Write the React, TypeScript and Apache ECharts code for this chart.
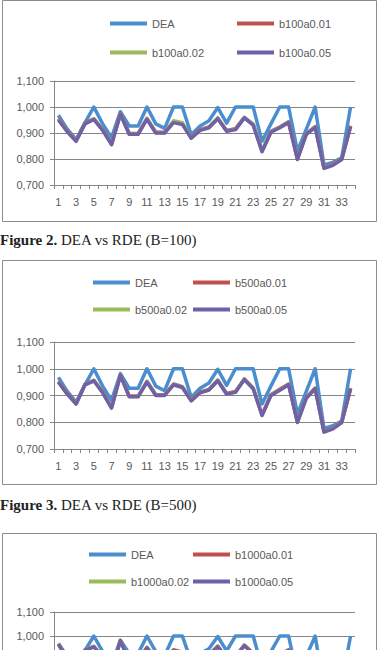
import React, { useEffect, useRef } from 'react';
import * as echarts from 'echarts';

const categories = ['1','2','3','4','5','6','7','8','9','10','11','12','13','14','15','16','17','18','19','20','21','22','23','24','25','26','27','28','29','30','31','32','33','34'];

const dea = [0.968,0.915,0.875,0.94,1.0,0.935,0.882,0.982,0.927,0.927,1.0,0.935,0.918,1.0,1.0,0.893,0.927,0.947,0.998,0.938,1.0,1.0,1.0,0.868,0.935,1.0,1.0,0.83,0.915,1.0,0.777,0.787,0.805,1.0];

const b100a001 = [0.955,0.908,0.872,0.938,0.955,0.913,0.858,0.975,0.898,0.898,0.956,0.903,0.903,0.943,0.936,0.883,0.913,0.923,0.958,0.910,0.916,0.960,0.933,0.832,0.906,0.923,0.943,0.802,0.898,0.925,0.768,0.780,0.801,0.928];
const b100a002 = [0.952,0.906,0.870,0.936,0.953,0.911,0.856,0.973,0.896,0.896,0.954,0.901,0.901,0.947,0.940,0.881,0.911,0.921,0.956,0.908,0.914,0.959,0.935,0.830,0.904,0.921,0.941,0.800,0.896,0.923,0.766,0.778,0.799,0.926];
const b100a005 = [0.950,0.905,0.868,0.935,0.952,0.910,0.855,0.972,0.895,0.895,0.953,0.900,0.900,0.940,0.933,0.880,0.910,0.920,0.955,0.907,0.913,0.958,0.930,0.828,0.903,0.920,0.940,0.798,0.895,0.922,0.764,0.776,0.798,0.925];

const b500a001 = [0.953,0.908,0.870,0.942,0.957,0.913,0.856,0.977,0.898,0.898,0.953,0.903,0.903,0.943,0.933,0.883,0.913,0.923,0.958,0.908,0.915,0.962,0.928,0.828,0.903,0.923,0.943,0.802,0.893,0.928,0.766,0.778,0.802,0.928];
const b500a002 = [0.951,0.906,0.869,0.941,0.956,0.911,0.854,0.976,0.896,0.896,0.951,0.901,0.901,0.941,0.931,0.881,0.911,0.921,0.956,0.906,0.913,0.961,0.926,0.826,0.901,0.921,0.941,0.800,0.891,0.926,0.764,0.776,0.800,0.926];
const b500a005 = [0.950,0.905,0.868,0.940,0.955,0.910,0.853,0.975,0.895,0.895,0.950,0.900,0.900,0.940,0.930,0.880,0.910,0.920,0.955,0.905,0.912,0.960,0.925,0.825,0.900,0.920,0.940,0.799,0.890,0.925,0.763,0.775,0.799,0.925];

const b1000a001 = [0.968,0.908,0.870,0.942,0.957,0.913,0.856,0.982,0.898,0.898,0.953,0.903,0.903,0.943,0.933,0.883,0.913,0.923,0.958,0.908,0.915,0.962,0.928,0.828,0.903,0.923,0.943,0.802,0.893,0.928,0.766,0.778,0.802,0.928];
const b1000a002 = [0.966,0.906,0.869,0.941,0.956,0.911,0.854,0.981,0.896,0.896,0.951,0.901,0.901,0.941,0.931,0.881,0.911,0.921,0.956,0.906,0.913,0.961,0.926,0.826,0.901,0.921,0.941,0.800,0.891,0.926,0.764,0.776,0.800,0.926];
const b1000a005 = [0.965,0.905,0.868,0.940,0.955,0.910,0.853,0.980,0.895,0.895,0.950,0.900,0.900,0.940,0.930,0.880,0.910,0.920,0.955,0.905,0.912,0.960,0.925,0.825,0.900,0.920,0.940,0.799,0.890,0.925,0.763,0.775,0.799,0.925];

const seriesNames = [
  ['DEA', 'b100a0.01', 'b100a0.02', 'b100a0.05'],
  ['DEA', 'b500a0.01', 'b500a0.02', 'b500a0.05'],
  ['DEA', 'b1000a0.01', 'b1000a0.02', 'b1000a0.05'],
];
const seriesData = [
  [dea, b100a001, b100a002, b100a005],
  [dea, b500a001, b500a002, b500a005],
  [dea, b1000a001, b1000a002, b1000a005],
];
const captionsBold = ['Figure 2.', 'Figure 3.'];
const captionsText = [' DEA vs RDE (B=100)', ' DEA vs RDE (B=500)'];

const colors = ['#4A8ECF', '#C0504D', '#9BBB59', '#7060A8'];
const axisGray = '#868686';
const labelGray = '#595959';
const sans = 'Liberation Sans';

// The third panel is cut by the page edge: only its top part is visible.
const panels = [
  { frameTop: 0.5, frameH: 221, gridTop: 81, gridH: 104, legX: [110, 237], legY: [25, 54], captionY: 240, cut: false },
  { frameTop: 260.5, frameH: 224, gridTop: 342, gridH: 107, legX: [93, 193], legY: [284, 311], captionY: 505, cut: false },
  { frameTop: 533.5, frameH: 200, gridTop: 612, gridH: 96, legX: [89, 193], legY: [556, 583], captionY: -100, cut: true },
];

function buildOption() {
  const grid: any[] = [];
  const xAxis: any[] = [];
  const yAxis: any[] = [];
  const series: any[] = [];
  const legend: any[] = [];
  const graphic: any[] = [];

  panels.forEach((p, i) => {
    graphic.push({
      type: 'rect', z: -10, silent: true,
      shape: { x: 2.5, y: p.frameTop, width: 374, height: p.frameH },
      style: { fill: '#fff', stroke: '#8c8c8c', lineWidth: 1 },
    });
    if (i < captionsBold.length) {
      graphic.push({
        type: 'text', x: 0, y: p.captionY,
        style: {
          text: '{b|' + captionsBold[i] + '}' + captionsText[i],
          fontFamily: 'Liberation Serif', fontSize: 15, fill: '#222',
          verticalAlign: 'middle',
          rich: { b: { fontWeight: 'bold', fontFamily: 'Liberation Serif', fontSize: 15, fill: '#222' } },
        },
      });
    }
    grid.push({ left: 54, width: 301, top: p.gridTop, height: p.gridH });
    xAxis.push({
      type: 'category', gridIndex: i, data: categories, boundaryGap: true,
      axisLine: { lineStyle: { color: axisGray, width: 1 } },
      axisTick: { show: true, interval: 0, length: 4, lineStyle: { color: axisGray } },
      axisLabel: { show: !p.cut, interval: 1, color: labelGray, fontSize: 11, fontFamily: sans, margin: 11 },
      splitLine: { show: false },
    });
    yAxis.push({
      type: 'value', gridIndex: i, min: 0.7, max: 1.1, interval: 0.1,
      axisLine: { show: true, lineStyle: { color: axisGray, width: 1 } },
      axisTick: { show: true, length: 4, lineStyle: { color: axisGray } },
      splitLine: { show: true, lineStyle: { color: axisGray, width: 1 } },
      axisLabel: {
        color: labelGray, fontSize: 11, fontFamily: sans, margin: 10,
        formatter: (v: number) => (p.cut && v < 0.95 ? '' : v.toFixed(3).replace('.', ',')),
      },
    });
    seriesNames[i].forEach((name, k) => {
      series.push({
        type: 'line', name, xAxisIndex: i, yAxisIndex: i,
        data: seriesData[i][k], symbol: 'none', smooth: false,
        color: colors[k],
        lineStyle: { color: colors[k], width: 3.5, join: 'round' },
        z: 2 + k,
      });
      const row = Math.floor(k / 2);
      const col = k % 2;
      legend.push({
        data: [name], left: p.legX[col], top: p.legY[row] - 7, padding: 0,
        icon: 'rect', itemWidth: 37, itemHeight: 4, selectedMode: false,
        textStyle: { color: labelGray, fontSize: 11, fontFamily: sans },
      });
    });
  });

  return {
    animation: false,
    backgroundColor: '#fff',
    grid, xAxis, yAxis, series, legend, graphic,
  };
}

export default function App() {
  const ref = useRef<HTMLDivElement>(null);
  useEffect(() => {
    if (!ref.current) return;
    const chart = echarts.init(ref.current, null, { renderer: 'svg' });
    chart.setOption(buildOption() as any);
    return () => chart.dispose();
  }, []);
  return (
    <div style={{ position: 'absolute', left: 0, top: 0, width: 381, height: 650, overflow: 'hidden', background: '#fff' }}>
      <div ref={ref} style={{ width: 381, height: 720 }} />
    </div>
  );
}
